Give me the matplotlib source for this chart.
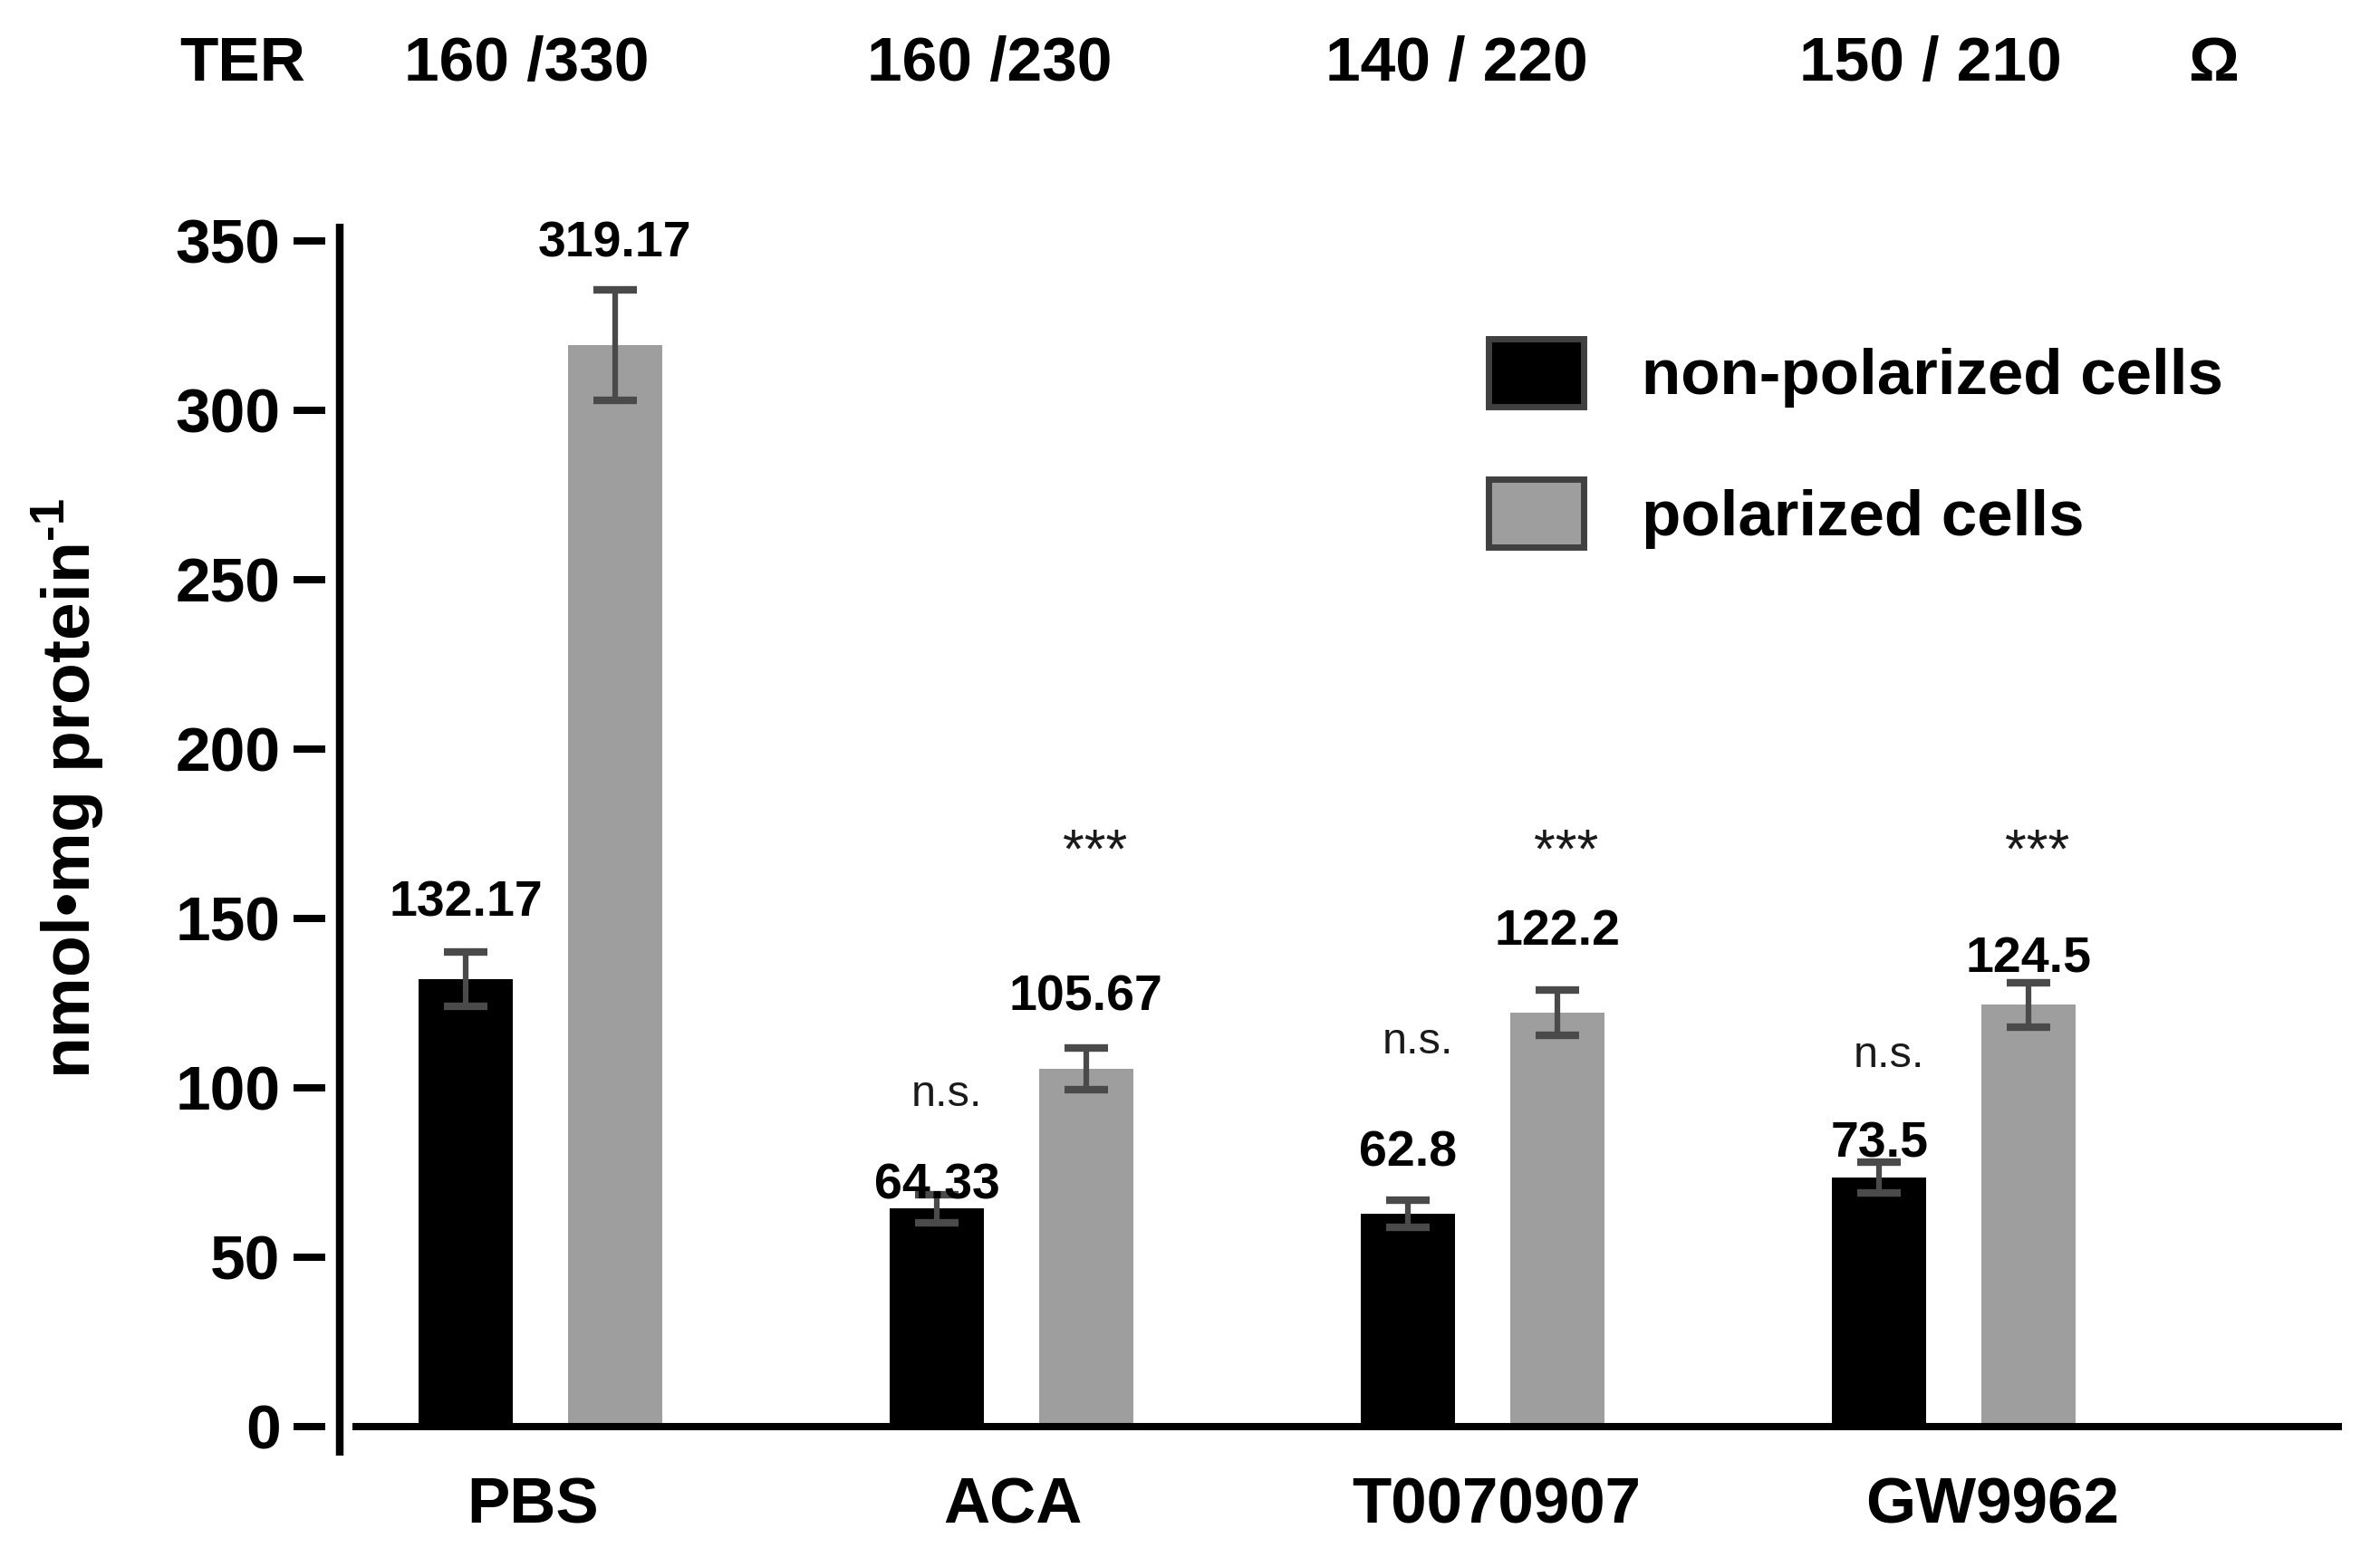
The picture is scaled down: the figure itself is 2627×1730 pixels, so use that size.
import matplotlib
matplotlib.use("Agg")
import matplotlib.pyplot as plt
from matplotlib.patches import Patch
from matplotlib.lines import Line2D
from matplotlib.transforms import blended_transform_factory

# data
groups = ["PBS", "ACA", "T0070907", "GW9962"]
ter_labels = ["160 /330", "160 /230", "140 / 220", "150 / 210"]
non_polarized = [132.17, 64.33, 62.8, 73.5]
polarized = [319.17, 105.67, 122.2, 124.5]
non_polarized_err = [8.0, 4.2, 4.1, 4.5]
polarized_err = [16.2, 6.1, 6.7, 6.5]
ns_marks = ["", "n.s.", "n.s.", "n.s."]
star_marks = ["", "***", "***", "***"]

# label heights (where the text sits, data units)
non_pol_label_y = [154.5, 70.9, 80.5, 83.4]
pol_label_y = [348.9, 126.7, 146.0, 137.7]
ns_y = [0, 97.9, 113.6, 109.6]
star_y = 169.3
# small horizontal nudges for the texts
tick_shift = [-0.016, 0.003, 0.03, 0.082]
ter_shift = [-0.03, -0.046, -0.055, -0.05]

plt.rcParams['font.family'] = ['Liberation Sans', 'DejaVu Sans']
plt.rcParams['font.weight'] = 'bold'
plt.rcParams['mathtext.fontset'] = 'custom'
plt.rcParams['mathtext.rm'] = 'Liberation Sans:bold'
plt.rcParams['mathtext.bf'] = 'Liberation Sans:bold'

black = '#000000'
grey = '#9e9e9e'
err_col = '#4a4a4a'

fig = plt.figure(figsize=(26.27, 17.30), dpi=100)
ax = fig.add_axes([0.13666, 0.0896, 0.98401 - 0.13666, 0.8572 - 0.0896])

off = 0.158
w = 0.2
x = list(range(len(groups)))
x_np = [i - off for i in x]
x_p = [i + off for i in x]

ax.bar(x_np, non_polarized, width=w, color=black, zorder=2)
ax.bar(x_p, polarized, width=w, color=grey, zorder=2)
ax.errorbar(x_np, non_polarized, yerr=non_polarized_err, fmt='none', ecolor=err_col,
            elinewidth=4.5, capsize=17, capthick=6, zorder=3)
ax.errorbar(x_p, polarized, yerr=polarized_err, fmt='none', ecolor=err_col,
            elinewidth=4.5, capsize=17, capthick=6, zorder=3)

ax.set_xlim(-0.4567, 3.824)
ax.set_ylim(0, 355)

# value labels
for i in x:
    ax.text(x_np[i], non_pol_label_y[i], f"{non_polarized[i]:g}", ha='center', va='center',
            fontsize=40, fontweight='bold', zorder=4)
    ax.text(x_p[i], pol_label_y[i], f"{polarized[i]:g}", ha='center', va='center',
            fontsize=40, fontweight='bold', zorder=4)
    if ns_marks[i]:
        ax.text(x_np[i] + 0.02, ns_y[i], ns_marks[i], ha='center', va='center',
                fontsize=35, fontweight='normal', color='#1a1a1a')
    if star_marks[i]:
        ax.text(x_p[i] + 0.02, star_y, star_marks[i], ha='center', va='center',
                fontsize=44, fontweight='normal', color='#1a1a1a')

# axes styling
for s in ['top', 'right', 'left']:
    ax.spines[s].set_visible(False)
ax.spines['bottom'].set_linewidth(5.8)
ax.spines['bottom'].set_bounds(-0.399, 3.824)
ax.spines['bottom'].set_capstyle('butt')

ax.set_yticks([0, 50, 100, 150, 200, 250, 300, 350])
ax.tick_params(axis='y', direction='out', length=25, width=5.8, pad=10.5, labelsize=50)
ax.set_xticks([i + d for i, d in zip(x, tick_shift)])
ax.set_xticklabels(groups)
ax.tick_params(axis='x', length=0, pad=40, labelsize=51)
for lab in ax.get_yticklabels() + ax.get_xticklabels():
    lab.set_fontweight('bold')

# detached y spine
fig.add_artist(Line2D([0.14275, 0.14275], [0.0711, 0.8572], color='black', linewidth=6.1,
                      transform=fig.transFigure, solid_capstyle='butt'))

fig.text(76 / 2627, 1 - 871 / 1730, r'nmol•mg protein$^{\text{-1}}$', rotation=90,
         ha='center', va='center', fontsize=54, fontweight='bold')

# TER row on top
top_tr = blended_transform_factory(ax.transData, fig.transFigure)
ty = 1 - 71 / 1730
ax.text(-0.632, ty, 'TER', transform=top_tr, ha='center', va='center', fontsize=50,
        fontweight='bold', clip_on=False)
for i, t in enumerate(ter_labels):
    ax.text(i + ter_shift[i], ty, t, transform=top_tr, ha='center', va='center', fontsize=50,
            fontweight='bold', clip_on=False)
ax.text(3.551, ty, 'Ω', transform=top_tr, ha='center', va='center', fontsize=50,
        fontweight='bold', clip_on=False)

handles = [Patch(facecolor=black, edgecolor='#404040', linewidth=5),
           Patch(facecolor=grey, edgecolor='#404040', linewidth=5)]
fig.legend(handles, ['non-polarized cells', 'polarized cells'], loc='upper left',
           bbox_to_anchor=(0.6256, 0.7840), frameon=False, borderpad=0, borderaxespad=0,
           handlelength=1.48, handleheight=1.25, labelspacing=1.12, handletextpad=0.9,
           prop={'size': 51, 'weight': 'bold'})

fig.savefig('out.png', dpi=100)
